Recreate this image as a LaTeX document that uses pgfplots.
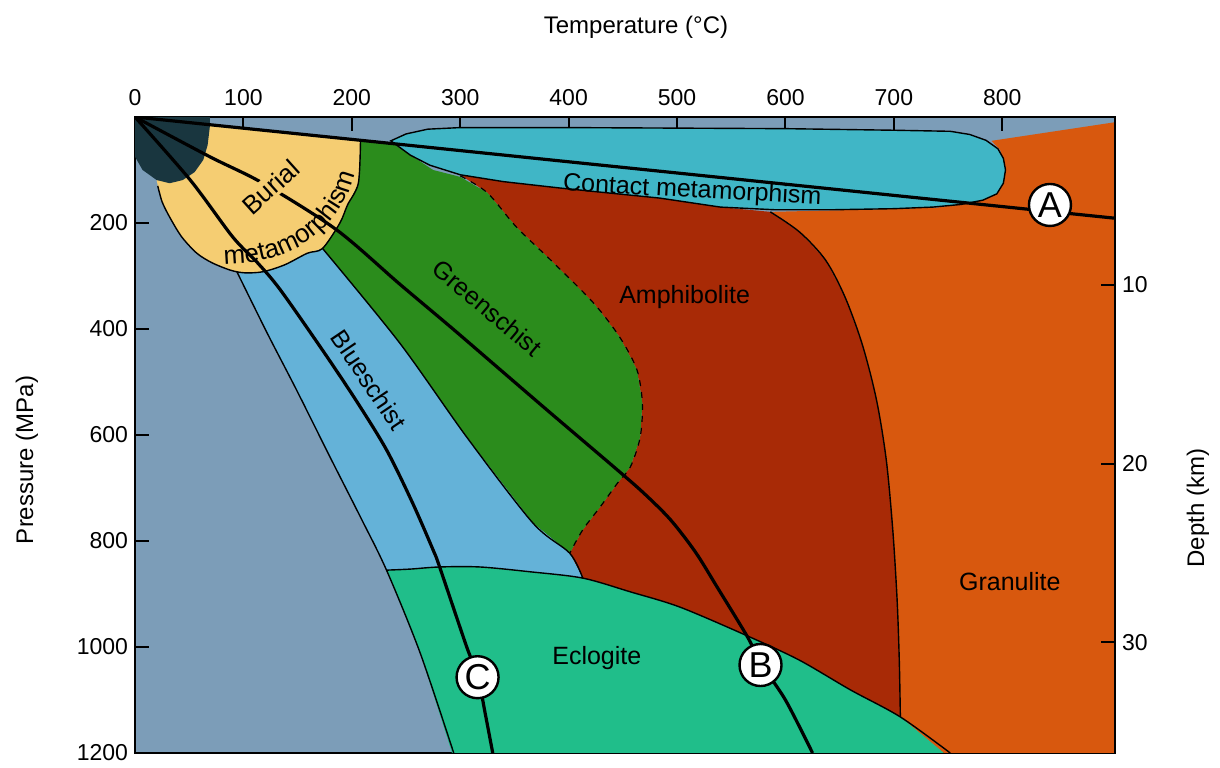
\documentclass[border=0pt]{standalone}
\usepackage{fontspec}
\setmainfont{Liberation Sans}
\usepackage{pgfplots}
\pgfplotsset{compat=1.18}
\usetikzlibrary{decorations.text}
\definecolor{bgb}{HTML}{7C9DB8}
\definecolor{burial}{HTML}{F5CD72}
\definecolor{darkz}{HTML}{19363F}
\definecolor{green}{HTML}{2B8C1C}
\definecolor{blues}{HTML}{64B2D8}
\definecolor{amph}{HTML}{A82A06}
\definecolor{gran}{HTML}{D8580E}
\definecolor{contact}{HTML}{40B6C6}
\definecolor{eclo}{HTML}{20BE8A}
\begin{document}
\begin{tikzpicture}
\begin{axis}[name=ax, scale only axis, width=490pt, height=318pt,
  xmin=0, xmax=904, ymin=0, ymax=1200, y dir=reverse,
  axis background/.style={fill=bgb},
  xtick={0,100,...,800}, ytick={200,400,...,1200},
  xtick pos=right, xticklabel pos=right, ytick pos=left, yticklabel pos=left,
  major tick length=7pt, tick style={line width=1pt, black},
  axis line style={line width=1pt},
  ticklabel style={font=\fontsize{11.5}{13}\selectfont},
  xticklabel style={yshift=2pt},
  /pgf/number format/assume math mode=true,
  /pgf/number format/set thousands separator={}]
% granulite
\addplot[fill=gran, draw=none] coordinates {(586,179) (650,176) (740,171) (782,157) (798,138) (803,94) (798,62) (790,45) (910,8) (910,1210) (752,1210) (706,1132) (705,1025) (703,911) (699,779) (693,647) (684,534) (671,430) (655,340) (637,270) (613,217)} -- cycle;
% amphibolite
\addplot[fill=amph, draw=none] coordinates {(300,109) (392,134) (484,153) (540,170) (586,179) (613,217) (637,270) (655,340) (671,430) (684,534) (693,647) (699,779) (703,911) (705,1025) (706,1132) (660,1081) (613,1025) (567,981) (503,925) (457,896) (413,870) (401,823) (413,779) (429,736) (445,691) (457,660) (466,604) (468,540) (463,477) (447,415) (423,351) (386,275) (352,208) (325,143)} -- cycle;
% greenschist
\addplot[fill=green, draw=none] coordinates {(208,44) (238,50) (275,100) (300,113) (325,143) (352,208) (386,275) (423,351) (447,415) (463,477) (468,540) (466,604) (457,660) (445,691) (429,736) (413,779) (401,823) (367,766) (306,604) (244,426) (173,248) (189,200) (196,166) (206,125)} -- cycle;
% blueschist
\addplot[fill=blues, draw=none] coordinates {(94,292) (122,408) (149,515) (180,642) (208,755) (232,855) (235,860) (254,853) (281,849) (318,849) (364,858) (413,870) (401,823) (367,766) (306,604) (244,426) (173,248) (159,257) (138,279) (118,292) (101,294)} -- cycle;
% eclogite
\addplot[fill=eclo, draw=none] coordinates {(232,855) (254,853) (281,849) (318,849) (364,858) (413,870) (457,896) (503,925) (567,981) (613,1025) (660,1081) (706,1132) (752,1210) (294,1210) (263,1011)} -- cycle;
% burial
\addplot[fill=burial, draw=none] coordinates {(0,0) (208,44) (206,125) (196,166) (189,200) (173,248) (159,257) (138,279) (118,292) (101,294) (88,289) (71,275) (57,257) (43,226) (32,189) (25,160) (21,130) (20,119)} -- cycle;
% dark core
\addplot[fill=darkz, draw=none] coordinates {(0,0) (69,0) (69,19) (67,53) (63,81) (55,104) (44,119) (32,125) (20,119) (7,100) (0,75)} -- cycle;
% contact
\addplot[fill=contact, draw=black, line width=0.7pt] coordinates {(236,45) (254,72) (272,91) (300,109) (340,122) (392,134) (440,144) (484,153) (540,170) (590,175) (644,175) (700,173) (736,170) (762,165) (782,157) (795,145) (801,125) (803,100) (801,78) (796,60) (785,44) (770,33) (752,27) (700,25) (600,22) (500,21) (400,20) (300,20) (270,23) (250,32)} -- cycle;
% boundaries
\addplot[black, line width=0.7pt, smooth] coordinates {(208,44) (206,125) (196,166) (189,200) (173,248) (159,257) (138,279) (118,292) (101,294) (88,289) (71,275) (57,257) (43,226) (32,189) (25,160) (21,130)};
\addplot[black, line width=0.7pt, smooth] coordinates {(94,292) (122,408) (149,515) (180,642) (208,755) (232,855) (263,1011) (294,1200)};
\addplot[black, line width=0.7pt, smooth] coordinates {(173,248) (244,426) (306,604) (367,766) (401,823) (413,870)};
\addplot[black, line width=0.7pt, smooth] coordinates {(232,855) (254,853) (281,849) (318,849) (364,858) (413,870) (457,896) (503,925) (567,981) (613,1025) (660,1081) (706,1132) (752,1200)};
\addplot[black, line width=0.7pt, smooth] coordinates {(586,179) (613,217) (637,270) (655,340) (671,430) (684,534) (693,647) (699,779) (703,911) (705,1025) (706,1132)};
\addplot[black, line width=0.6pt, dashed, smooth] coordinates {(300,111) (325,143) (352,208) (386,275) (423,351) (447,415) (463,477) (468,540) (466,604) (457,660) (445,691) (429,736) (413,779) (401,823)};
% geotherms
\addplot[black, line width=1.6pt] coordinates {(0,0) (904,191)};
\addplot[black, line width=1.6pt, smooth] coordinates {(0,0) (69,75) (118,125) (186,213) (244,315) (291,396) (337,477) (383,558) (445,666) (470,711) (494,760) (517,821) (537,887) (565,981) (577,1030) (600,1100) (625,1200)};
\addplot[black, line width=1.6pt, smooth] coordinates {(0,0) (51,119) (90,226) (113,275) (134,326) (173,440) (204,535) (232,628) (256,728) (275,817) (281,849) (306,1000) (316,1053) (323,1125) (330,1200)};
% labels
\node[rotate=42, fill=burial, inner sep=1pt, font=\fontsize{13}{15}\selectfont] at (axis cs:125,132) {Burial};
\path[decorate, decoration={text along path, text align=center, text={|\fontsize{13}{15}\selectfont|metamorphism}}] (axis cs:62,276) .. controls (axis cs:143,292) and (axis cs:202,206) .. (axis cs:205,66);
\node[rotate=-3, font=\fontsize{12.5}{14}\selectfont] at (axis cs:514,140) {Contact metamorphism};
\node[rotate=-40, font=\fontsize{12.5}{14}\selectfont] at (axis cs:325,360) {Greenschist};
\node[rotate=-56, font=\fontsize{12.5}{14}\selectfont] at (axis cs:216,496) {Blueschist};
\node[font=\fontsize{12.5}{14}\selectfont] at (axis cs:507,340) {Amphibolite};
\node[font=\fontsize{12.5}{14}\selectfont] at (axis cs:426,1021) {Eclogite};
\node[font=\fontsize{12.5}{14}\selectfont] at (axis cs:807,877) {Granulite};
\node[circle, draw=black, line width=1.2pt, fill=white, minimum size=21pt, inner sep=0pt, font=\fontsize{18}{20}\selectfont] at (axis cs:844,166) {A};
\node[circle, draw=black, line width=1.2pt, fill=white, minimum size=21pt, inner sep=0pt, font=\fontsize{18}{20}\selectfont] at (axis cs:577,1034) {B};
\node[circle, draw=black, line width=1.2pt, fill=white, minimum size=21pt, inner sep=0pt, font=\fontsize{18}{20}\selectfont] at (axis cs:316,1057) {C};
\end{axis}
\begin{axis}[scale only axis, width=490pt, height=318pt,
  xmin=0, xmax=904, ymin=0.59, ymax=36.2, y dir=reverse,
  axis x line=none, axis y line*=right,
  ytick={10,20,30}, major tick length=7pt,
  tick style={line width=1pt, black}, axis line style={line width=1pt},
  ticklabel style={font=\fontsize{11.5}{13}\selectfont},
  /pgf/number format/assume math mode=true]
\addplot[draw=none] coordinates {(0,10)};
\end{axis}
\node[font=\fontsize{12}{14}\selectfont] at ([xshift=5.5pt,yshift=45pt]ax.north) {Temperature (°C)};
\node[rotate=90, font=\fontsize{12}{14}\selectfont] at ([xshift=-54pt,yshift=-12.5pt]ax.west) {Pressure (MPa)};
\node[rotate=90, font=\fontsize{12}{14}\selectfont] at ([xshift=41.5pt,yshift=-36.5pt]ax.east) {Depth (km)};
\path ([xshift=-67.5pt,yshift=-7.5pt]ax.south west) rectangle ([xshift=52.5pt,yshift=58.5pt]ax.north east);
\end{tikzpicture}
\end{document}
